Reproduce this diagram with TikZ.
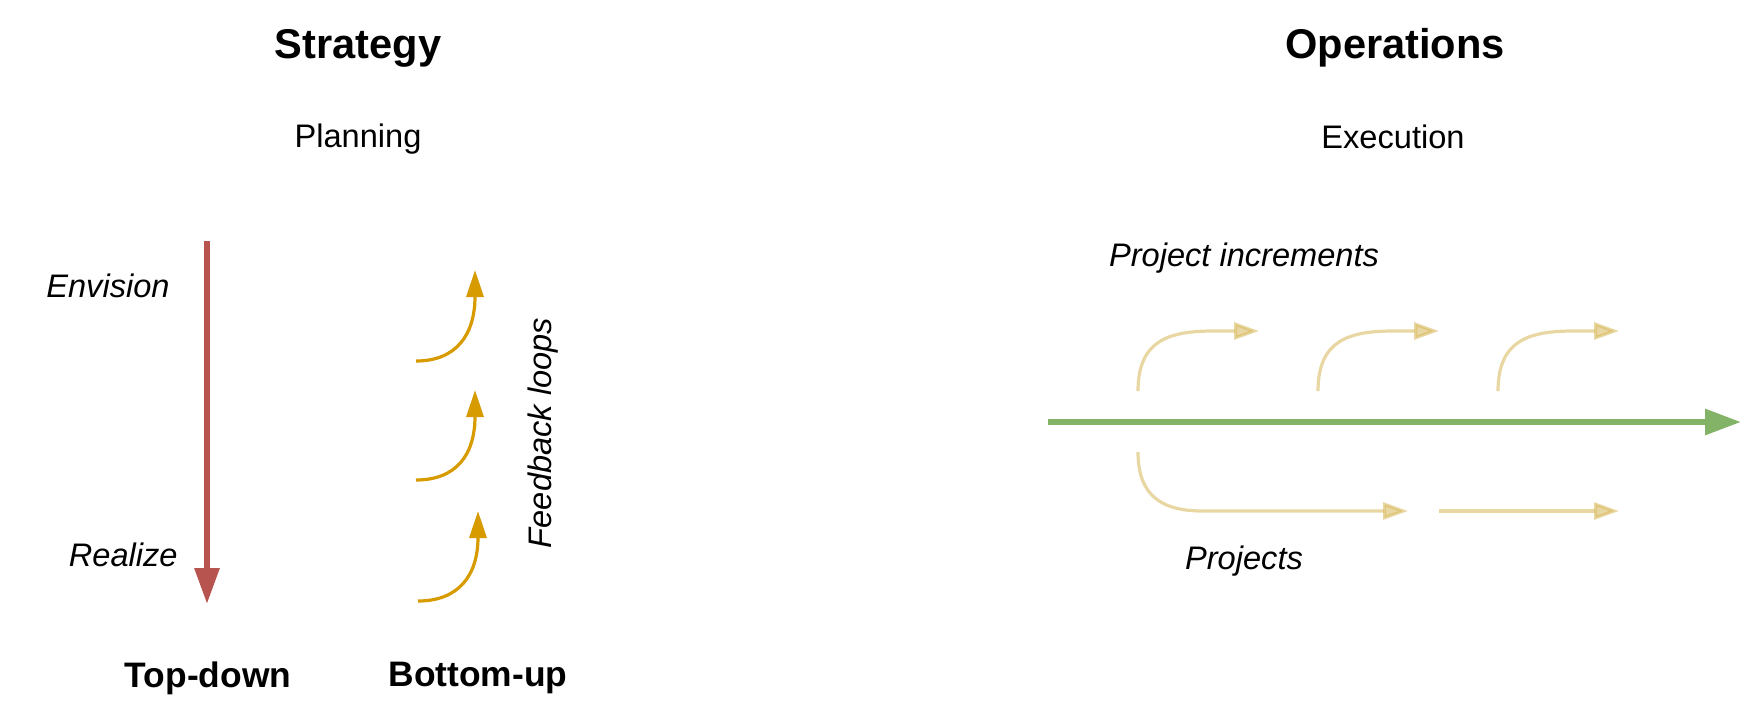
\documentclass[tikz,border=0pt]{standalone}
\usepackage{fontspec}
\setmainfont{Liberation Sans}
\usetikzlibrary{arrows.meta,calc}
\definecolor{cred}{HTML}{B85450}
\definecolor{cgold}{HTML}{D79B00}
\definecolor{cgreen}{HTML}{82B366}
\definecolor{clight}{HTML}{D6B656}
\tikzset{
  title/.style={font=\fontsize{20.8pt}{24pt}\selectfont\bfseries, inner sep=0pt},
  sub/.style={font=\fontsize{16.3pt}{19pt}\selectfont, inner sep=0pt},
  lab/.style={font=\fontsize{16.3pt}{19pt}\selectfont\itshape, inner sep=0pt},
  foot/.style={font=\fontsize{17.7pt}{21pt}\selectfont\bfseries, inner sep=0pt},
  redarrow/.style={draw=cred, line width=3pt, -{Triangle[length=18pt,width=12pt]}},
  goldarrow/.style={draw=cgold, line width=1.6pt, -{Triangle[length=13.5pt,width=8.5pt]}},
  greenarrow/.style={draw=cgreen, line width=3pt, -{Triangle[length=18pt,width=12.5pt]}},
  lightarrow/.style={draw=clight, opacity=0.55, line width=1.6pt, -{Triangle[length=12.5pt,width=8.5pt]}},
}
\begin{document}
\begin{tikzpicture}[x=0.5pt,y=-0.5pt]
\useasboundingbox (0,0) rectangle (1764,720);
% titles
\node[title] (strategy) at (358,48) {Strategy};
\node[sub] (planning) at (358,139) {Planning};
\node[title] (operations) at (1395,48) {Operations};
\node[sub] (execution) at (1393,137) {Execution};
\node[foot] (topdown) at (208,678) {Top-down};
\node[foot] (bottomup) at (478,678) {Bottom-up};
% left labels
\node[lab, anchor=east] (envision) at (170,286) {Envision};
\node[lab, anchor=east] (realize) at (178,555) {Realize};
\node[lab, rotate=90] (feedback) at (543,433) {Feedback loops};
% red arrow
\coordinate (r1) at (207,241);
\coordinate (r2) at (207,604);
\draw[redarrow] (r1) -- (r2);
% gold feedback arrows
\coordinate (g1s) at (416,361); \coordinate (g1t) at (475,270);
\coordinate (g2s) at (416,480); \coordinate (g2t) at (475,390);
\coordinate (g3s) at (418,601); \coordinate (g3t) at (478,511);
\draw[goldarrow] (g1s) .. controls +(40,0) and +(0,65) .. (g1t);
\draw[goldarrow] (g2s) .. controls +(40,0) and +(0,65) .. (g2t);
\draw[goldarrow] (g3s) .. controls +(40,0) and +(0,65) .. (g3t);
% right side
\node[lab] (increments) at (1244,258) {Project increments};
\node[lab] (projects) at (1244,561) {Projects};
\coordinate (gs) at (1048,422);
\coordinate (gt) at (1741,422);
\draw[greenarrow] (gs) -- (gt);
% upper increments
\coordinate (u1s) at (1138,391); \coordinate (u1t) at (1259,331);
\coordinate (u2s) at (1318,391); \coordinate (u2t) at (1439,331);
\coordinate (u3s) at (1498,391); \coordinate (u3t) at (1619,331);
\draw[lightarrow] (u1s) .. controls +(0,-50) and +(-45,0) .. ($(u1s)+(75,-60)$) -- (u1t);
\draw[lightarrow] (u2s) .. controls +(0,-50) and +(-45,0) .. ($(u2s)+(75,-60)$) -- (u2t);
\draw[lightarrow] (u3s) .. controls +(0,-50) and +(-45,0) .. ($(u3s)+(75,-60)$) -- (u3t);
% lower projects
\coordinate (p1s) at (1138,452); \coordinate (p1t) at (1408,511);
\coordinate (p2s) at (1439,511); \coordinate (p2t) at (1619,511);
\draw[lightarrow] (p1s) .. controls +(0,45) and +(-40,0) .. ($(p1s)+(65,59)$) -- (p1t);
\draw[lightarrow] (p2s) -- (p2t);
\end{tikzpicture}
\end{document}
